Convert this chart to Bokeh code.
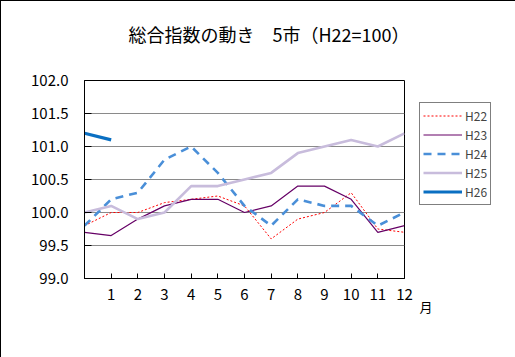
from bokeh.plotting import figure
from bokeh.models import (FixedTicker, Legend, LegendItem, Title,
                          Range1d, NumeralTickFormatter)
from bokeh.embed import file_html
from bokeh.resources import INLINE

# ---- data ----
months = [0, 1, 2, 3, 4, 5, 6, 7, 8, 9, 10, 11, 12]
h22 = [99.8, 100.0, 100.0, 100.15, 100.2, 100.25, 100.1, 99.6, 99.9, 100.0, 100.3, 99.75, 99.7]
h23 = [99.7, 99.65, 99.9, 100.1, 100.2, 100.2, 100.0, 100.1, 100.4, 100.4, 100.2, 99.7, 99.8]
h24 = [99.8, 100.2, 100.3, 100.8, 101.0, 100.6, 100.1, 99.8, 100.2, 100.1, 100.1, 99.8, 100.0]
h25 = [100.0, 100.1, 99.9, 100.0, 100.4, 100.4, 100.5, 100.6, 100.9, 101.0, 101.1, 101.0, 101.2]
h26_months = [0, 1]
h26 = [101.2, 101.1]
x_tick_values = [1, 2, 3, 4, 5, 6, 7, 8, 9, 10, 11, 12]
x_tick_labels = ["1", "2", "3", "4", "5", "6", "7", "8", "9", "10", "11", "12"]
y_ticks = [99.0, 99.5, 100.0, 100.5, 101.0, 101.5, 102.0]
series_names = ["H22", "H23", "H24", "H25", "H26"]
title_text = "総合指数の動き　5市（H22=100）"
unit_text = "月"

FONT = "Noto Sans CJK JP"

W, H = 515, 357
FL, FR, FT, FB = 83, 403, 79, 277
p = figure(frame_width=FR - FL, frame_height=FB - FT,
           output_backend="svg", toolbar_location=None,
           x_range=Range1d(0, 12), y_range=Range1d(99.0, 102.0),
           min_border_left=FL, min_border_right=W - FR,
           min_border_top=FT, min_border_bottom=H - FB)
p.styles = {"border": "1px solid black", "box-sizing": "border-box"}
p.background_fill_color = "white"
p.border_fill_color = "white"
p.outline_line_color = "black"
p.outline_line_width = 1

# title: a blank spacer next to the frame, then the real title above it
p.title.text = ""
spacer = Title(text=" ", text_font=FONT, text_font_size="18px", standoff=6)
p.add_layout(spacer, "above")
main_title = Title(text=title_text, align="left", offset=44, standoff=0,
                   text_font=FONT, text_font_size="18px",
                   text_font_style="normal", text_color="black")
p.add_layout(main_title, "above")

# grid
p.xgrid.visible = False
p.ygrid.ticker = FixedTicker(ticks=y_ticks)
p.ygrid.grid_line_color = "#8a8a8a"
p.ygrid.grid_line_width = 1

# axes
p.yaxis.ticker = FixedTicker(ticks=y_ticks)
p.yaxis.formatter = NumeralTickFormatter(format="0.0")
p.yaxis.major_tick_in = 7
p.yaxis.major_tick_out = 0
p.yaxis.minor_tick_line_color = None
p.yaxis.major_label_standoff = 16
p.yaxis.major_label_text_font = FONT
p.yaxis.major_label_text_font_size = "15px"
p.yaxis.major_label_text_color = "black"
p.yaxis.axis_line_color = "black"

p.xaxis.ticker = FixedTicker(ticks=x_tick_values)
p.xaxis.major_label_overrides = {v: l for v, l in zip(x_tick_values, x_tick_labels)}
p.xaxis.major_tick_in = 5
p.xaxis.major_tick_out = 0
p.xaxis.minor_tick_line_color = None
p.xaxis.major_label_standoff = 10
p.xaxis.major_label_text_font = FONT
p.xaxis.major_label_text_font_size = "15px"
p.xaxis.major_label_text_color = "black"
p.xaxis.axis_line_color = "black"

# unit label "月" to the right of the last x tick label
unit = Title(text=unit_text, align="right", offset=-28, standoff=-15,
             text_font=FONT, text_font_size="13px", text_font_style="normal",
             text_color="black")
p.add_layout(unit, "below")

# series
r22 = p.line(months, h22, line_color="#ff0000", line_width=1, line_dash="2 2")
r23 = p.line(months, h23, line_color="#660066", line_width=1.2)
r24 = p.line(months, h24, line_color="#4a8fd8", line_width=2.6, line_dash="8 6")
r25 = p.line(months, h25, line_color="#c8bcdc", line_width=2.6)
r26 = p.line(h26_months, h26, line_color="#0a6fc2", line_width=3.2)

items = [LegendItem(label=n, renderers=[r]) for n, r in zip(series_names, [r22, r23, r24, r25, r26])]
legend = Legend(items=items, location=(15, 73), orientation="vertical",
                glyph_width=39, glyph_height=19, label_height=19, spacing=0,
                padding=3, margin=0, label_standoff=3,
                label_text_font=FONT, label_text_font_size="12px",
                border_line_color="black", border_line_width=1,
                background_fill_color="white", background_fill_alpha=1)
p.add_layout(legend, "right")

open("out.html", "w").write(file_html(p, INLINE))
